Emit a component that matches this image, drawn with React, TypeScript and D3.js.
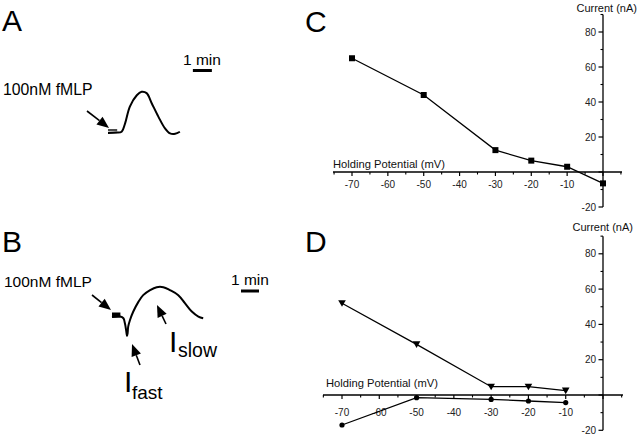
import React from "react";
import * as d3 from "d3";

// ---- Traces (time in s, relative current) ----
const traceA_t = [0, 27, 43, 54, 69, 91, 106, 122, 138, 159, 180, 196, 212, 227];
const traceA_v = [0, 0.01, 0.03, 0.23, 0.63, 0.9, 0.98, 0.95, 0.71, 0.39, 0.11, -0.01, -0.02, 0.03];

const traceB_t = [0, 27, 38, 43, 47, 50, 52, 54, 60, 71, 88, 104, 127, 149, 171, 193, 221, 243, 266, 288, 304];
const traceB_v = [0, 0.01, -0.03, -0.15, -0.31, -0.45, -0.39, -0.23, -0.07, 0.13, 0.36, 0.52, 0.64, 0.71, 0.71, 0.64, 0.52, 0.33, 0.13, 0.01, -0.03];

// ---- I-V data ----
const potentialsC = [-70, -50, -30, -20, -10, 0];
const currentC = [65, 44, 12.5, 6.5, 3, -6.5];

const potentialsD = [-70, -50, -30, -20, -10];
const currentSlow = [52, 28.7, 4.7, 4.7, 2.5];
const currentFast = [-17, -1.5, -2.5, -3.4, -4.3];

const xMajorTicks = [-70, -60, -50, -40, -30, -20, -10, 0];
const xMinorTicks = [-75, -65, -55, -45, -35, -25, -15, -5, 5];
const yMajorTicks = [80, 60, 40, 20, 0, -20];
const yMinorTicks = [90, 70, 50, 30, 10, -10];
const xLabelTicks = [-70, -60, -50, -40, -30, -20, -10];
const yLabelTicks = [80, 60, 40, 20, -20];

const FONT = "'Liberation Sans', Arial, Helvetica, sans-serif";

function Arrow({ x1, y1, x2, y2, head = 12, width = 10 }: any) {
  const ang = Math.atan2(y2 - y1, x2 - x1);
  const bx = x2 - head * Math.cos(ang);
  const by = y2 - head * Math.sin(ang);
  const px = -Math.sin(ang) * (width / 2);
  const py = Math.cos(ang) * (width / 2);
  return (
    <g>
      <line x1={x1} y1={y1} x2={bx} y2={by} stroke="#000" strokeWidth={1.6} />
      <polygon points={`${x2},${y2} ${bx + px},${by + py} ${bx - px},${by - py}`} fill="#000" />
    </g>
  );
}

function IVPanel({ x0, x1, yZero, pxPerUnit, axisLeft, axisRight, labelDy, children, hpLabel, curLabel }: any) {
  const x = d3.scaleLinear().domain([-70, 0]).range([x0, x1]);
  const y = d3.scaleLinear().domain([0, 20]).range([yZero, yZero - 20 * pxPerUnit]);
  const ax = x(0);
  return (
    <g>
      <line x1={axisLeft} x2={axisRight} y1={y(0)} y2={y(0)} stroke="#000" strokeWidth={1.3} />
      {xMajorTicks.map((t) => (
        <line key={"xM" + t} x1={x(t)} x2={x(t)} y1={y(0)} y2={y(0) + 4} stroke="#000" strokeWidth={1.2} />
      ))}
      {xMinorTicks.map((t) => (
        <line key={"xm" + t} x1={x(t)} x2={x(t)} y1={y(0)} y2={y(0) + 2.5} stroke="#000" strokeWidth={1.1} />
      ))}
      {xLabelTicks.map((t) => (
        <text key={"xl" + t} x={x(t)} y={y(0) + labelDy} textAnchor="middle" fontSize={10} fill="#222" fontFamily={FONT}>
          {t}
        </text>
      ))}
      <line x1={ax} x2={ax} y1={y(90)} y2={y(-20)} stroke="#000" strokeWidth={1.3} />
      {yMajorTicks.map((t) => (
        <line key={"yM" + t} x1={ax - 4.5} x2={ax} y1={y(t)} y2={y(t)} stroke="#000" strokeWidth={1.2} />
      ))}
      {yMinorTicks.map((t) => (
        <line key={"ym" + t} x1={ax - 2.5} x2={ax} y1={y(t)} y2={y(t)} stroke="#000" strokeWidth={1.1} />
      ))}
      {yLabelTicks.map((t) => (
        <text key={"yl" + t} x={ax - 7} y={y(t) + 3.5} textAnchor="end" fontSize={10} fill="#222" fontFamily={FONT}>
          {t}
        </text>
      ))}
      <text x={hpLabel[0]} y={hpLabel[1]} fontSize={11.2} fill="#111" fontFamily={FONT}>
        Holding Potential (mV)
      </text>
      <text x={curLabel[0]} y={curLabel[1]} textAnchor="end" fontSize={11} fill="#111" fontFamily={FONT}>
        Current (nA)
      </text>
      {children(x, y)}
    </g>
  );
}

export default function App() {
  const xA = d3.scaleLinear().domain([0, 60]).range([108, 127]);
  const yA = d3.scaleLinear().domain([0, 1]).range([133, 91]);
  const xB = d3.scaleLinear().domain([0, 60]).range([112, 130]);
  const yB = d3.scaleLinear().domain([0, 1]).range([317, 275]);

  const lineA = d3
    .line<number>()
    .x((_, i) => xA(traceA_t[i]))
    .y((v) => yA(v))
    .curve(d3.curveCatmullRom.alpha(0.5));
  const lineB = d3
    .line<number>()
    .x((_, i) => xB(traceB_t[i]))
    .y((v) => yB(v))
    .curve(d3.curveCatmullRom.alpha(0.5));

  const triPath = "M-3.8,-3 L3.8,-3 L0,3.6 Z";

  return (
    <svg width={640} height={440} style={{ position: "absolute", left: 0, top: 0, background: "#fff" }}>
      <rect x={0} y={0} width={640} height={440} fill="#fff" />
      <text x={2} y={31} fontSize={30} fontFamily={FONT} fill="#000">A</text>
      <text x={2} y={252} fontSize={30} fontFamily={FONT} fill="#000">B</text>
      <text x={305} y={32} fontSize={30} fontFamily={FONT} fill="#000">C</text>
      <text x={305} y={252} fontSize={30} fontFamily={FONT} fill="#000">D</text>

      {/* Panel A */}
      <text x={3} y={95} fontSize={15.8} fontFamily={FONT} fill="#000">100nM fMLP</text>
      <Arrow x1={87} y1={111} x2={109} y2={128} />
      <line x1={xA(0)} x2={xA(29)} y1={yA(0) - 3} y2={yA(0) - 3} stroke="#000" strokeWidth={1.4} />
      <line x1={xA(0)} x2={xA(29)} y1={yA(0) - 0.5} y2={yA(0) - 0.5} stroke="#000" strokeWidth={1.4} />
      <path d={lineA(traceA_v) || ""} fill="none" stroke="#000" strokeWidth={2} strokeLinejoin="round" />
      <text x={183} y={65} fontSize={15.5} fontFamily={FONT} fill="#000">1 min</text>
      <line x1={xA(268)} x2={xA(328)} y1={70.5} y2={70.5} stroke="#000" strokeWidth={3} />

      {/* Panel B */}
      <text x={4} y={287} fontSize={15.5} fontFamily={FONT} fill="#000">100nM fMLP</text>
      <Arrow x1={92} y1={295} x2={111} y2={310} />
      <rect x={xB(0)} y={yB(0) - 4.5} width={xB(28) - xB(0)} height={5} fill="#000" />
      <path d={lineB(traceB_v) || ""} fill="none" stroke="#000" strokeWidth={2} strokeLinejoin="round" />
      <text x={231} y={285} fontSize={15.5} fontFamily={FONT} fill="#000">1 min</text>
      <line x1={xB(430)} x2={xB(490)} y1={291} y2={291} stroke="#000" strokeWidth={3} />
      <Arrow x1={140} y1={365} x2={132} y2={344} />
      <text x={124} y={392} fontSize={30} fontFamily={FONT} fill="#000">I</text>
      <text x={132} y={399} fontSize={19} fontFamily={FONT} fill="#000">fast</text>
      <Arrow x1={166} y1={324} x2={157} y2={305} />
      <text x={169} y={352} fontSize={30} fontFamily={FONT} fill="#000">I</text>
      <text x={178} y={357} fontSize={19.5} fontFamily={FONT} fill="#000">slow</text>

      {/* Panel C */}
      <IVPanel
        x0={352}
        x1={603}
        yZero={172}
        pxPerUnit={1.75}
        axisLeft={333}
        axisRight={622}
        labelDy={16}
        hpLabel={[333, 168]}
        curLabel={[637, 12]}
      >
        {(x: any, y: any) => {
          const ln = d3.line<number>().x((_, i) => x(potentialsC[i])).y((v) => y(v));
          return (
            <g>
              <path d={ln(currentC) || ""} fill="none" stroke="#000" strokeWidth={1.3} />
              {currentC.map((v, i) => (
                <rect key={i} x={x(potentialsC[i]) - 3} y={y(v) - 3} width={6} height={6} fill="#000" />
              ))}
            </g>
          );
        }}
      </IVPanel>

      {/* Panel D */}
      <IVPanel
        x0={342}
        x1={603}
        yZero={395}
        pxPerUnit={1.765}
        axisLeft={323}
        axisRight={623}
        labelDy={21}
        hpLabel={[326, 387]}
        curLabel={[633, 231]}
      >
        {(x: any, y: any) => {
          const ln = d3.line<number>().x((_, i) => x(potentialsD[i])).y((v) => y(v));
          return (
            <g>
              <path d={ln(currentSlow) || ""} fill="none" stroke="#000" strokeWidth={1.3} />
              <path d={ln(currentFast) || ""} fill="none" stroke="#000" strokeWidth={1.3} />
              {currentSlow.map((v, i) => (
                <path key={"t" + i} d={triPath} transform={`translate(${x(potentialsD[i])},${y(v)})`} fill="#000" />
              ))}
              {currentFast.map((v, i) => (
                <circle key={"c" + i} cx={x(potentialsD[i])} cy={y(v)} r={2.6} fill="#000" />
              ))}
            </g>
          );
        }}
      </IVPanel>
    </svg>
  );
}
